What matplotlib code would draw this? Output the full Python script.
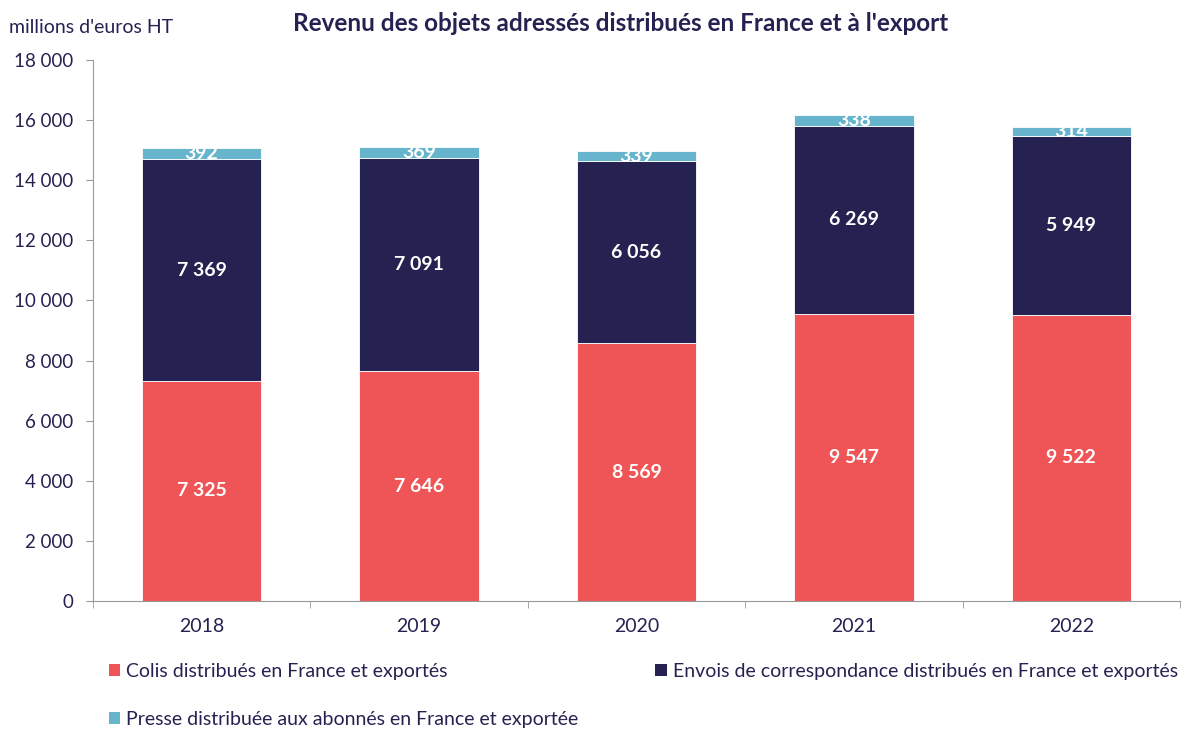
import matplotlib
matplotlib.use("Agg")
import matplotlib.pyplot as plt
from matplotlib.patches import Patch
import numpy as np

plt.rcParams['font.family'] = ['Lato', 'DejaVu Sans']

years = ["2018", "2019", "2020", "2021", "2022"]
colis = [7325, 7646, 8569, 9547, 9522]
correspondance = [7369, 7091, 6056, 6269, 5949]
presse = [392, 369, 339, 338, 314]

series_names = [
    "Colis distribués en France et exportés",
    "Envois de correspondance distribués en France et exportés",
    "Presse distribuée aux abonnés en France et exportée",
]
colors = ["#EF5556", "#252251", "#67B4CD"]
text_col = "#252251"


def fmt(v):
    return f"{v:,.0f}".replace(",", " ")


fig = plt.figure(figsize=(11.86, 7.31), dpi=100)
ax = fig.add_axes([0.0784, 0.1778, 0.9166, 0.7402])

x = np.arange(len(years))
width = 0.55
bottom = np.zeros(len(years))
for vals, col in zip([colis, correspondance, presse], colors):
    vals = np.array(vals, dtype=float)
    ax.bar(x, vals, width, bottom=bottom, color=col, edgecolor="white", linewidth=0.6)
    for xi, b, v in zip(x, bottom, vals):
        ax.text(xi, b + v / 2, fmt(v), ha="center", va="center", color="white",
                fontsize=14, fontweight="bold")
    bottom += vals

ax.set_xlim(-0.5, len(years) - 0.5)
ax.set_ylim(0, 18000)
ax.set_yticks(np.arange(0, 18001, 2000))
ax.set_yticklabels([fmt(v) for v in np.arange(0, 18001, 2000)])
ax.set_xticks(x)
ax.set_xticklabels(years)
ax.set_xticks(np.arange(-0.5, len(years), 1), minor=True)
ax.tick_params(axis="x", which="major", length=0, pad=12, labelsize=14, labelcolor=text_col)
ax.tick_params(axis="x", which="minor", length=5, color="#999999", direction="out")
ax.tick_params(axis="y", length=5, color="#999999", direction="out", labelsize=13.5,
               labelcolor=text_col, pad=9)
for s in ["top", "right"]:
    ax.spines[s].set_visible(False)
for s in ["left", "bottom"]:
    ax.spines[s].set_color("#999999")
    ax.spines[s].set_linewidth(0.8)

fig.text(0.008, 0.962, "millions d'euros HT", fontsize=14, color=text_col, va="center")
fig.text(0.5236, 0.968, "Revenu des objets adressés distribués en France et à l'export",
         fontsize=17.5, fontweight="bold", color=text_col, ha="center", va="center")

handles = [Patch(facecolor=c) for c in colors]
fig.legend([handles[0], handles[2], handles[1]], [series_names[0], series_names[2], series_names[1]],
           ncol=2, loc="upper left", bbox_to_anchor=(0.085, 0.104), frameon=False,
           fontsize=14, labelcolor=text_col, handlelength=0.6, handleheight=0.6,
           handletextpad=0.3, columnspacing=3.95, labelspacing=1.6, borderaxespad=0)

fig.savefig("out.png", dpi=100)
